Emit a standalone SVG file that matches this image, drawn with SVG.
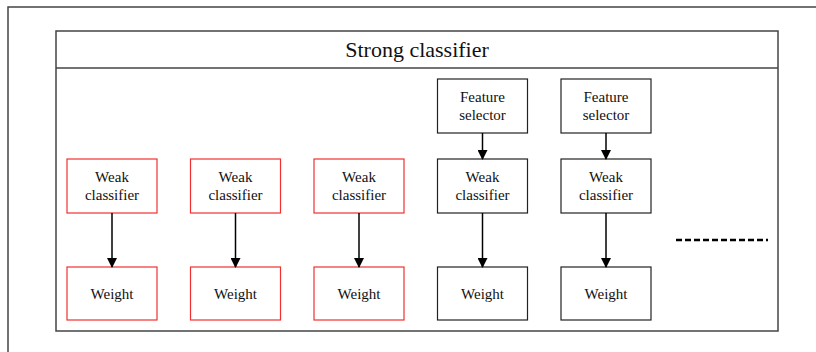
<svg xmlns="http://www.w3.org/2000/svg" width="816" height="352" viewBox="0 0 816 352">
<defs>
<marker id="ah" markerWidth="10" markerHeight="10" refX="9" refY="5" orient="auto" markerUnits="userSpaceOnUse">
<path d="M0,0 L10,5 L0,10 Z" fill="#000"/>
</marker>
<style>
.frame{fill:none;stroke:#444;stroke-width:1.5}
.box{fill:#fff;stroke:#222;stroke-width:1.2}
.red{fill:#fff;stroke:#f03030;stroke-width:1.2}
.t{font-family:"Liberation Serif","Times New Roman",serif;font-size:15px;fill:#111;text-anchor:middle}
.title{font-family:"Liberation Serif","Times New Roman",serif;font-size:22px;fill:#111;text-anchor:middle}
.arr{stroke:#000;stroke-width:1.5;fill:none;marker-end:url(#ah)}
</style>
</defs>
<rect width="816" height="352" fill="#fff"/>
<path d="M8,360 L8,7 L830,7" class="frame"/>
<g id="strong">
<rect x="56" y="31" width="722" height="300" class="frame"/>
<line x1="56" y1="68" x2="778" y2="68" class="frame"/>
<text x="417" y="57" class="title">Strong classifier</text>
</g>
<g id="weak1"><rect x="67" y="159" width="90" height="54" class="red"/><text x="112" y="182" class="t">Weak</text><text x="112" y="200" class="t">classifier</text></g>
<g id="weak2"><rect x="190.5" y="159" width="90" height="54" class="red"/><text x="235.5" y="182" class="t">Weak</text><text x="235.5" y="200" class="t">classifier</text></g>
<g id="weak3"><rect x="314" y="159" width="90" height="54" class="red"/><text x="359" y="182" class="t">Weak</text><text x="359" y="200" class="t">classifier</text></g>
<g id="weak4"><rect x="437.5" y="159" width="90" height="54" class="box"/><text x="482.5" y="182" class="t">Weak</text><text x="482.5" y="200" class="t">classifier</text></g>
<g id="weak5"><rect x="561" y="159" width="90" height="54" class="box"/><text x="606" y="182" class="t">Weak</text><text x="606" y="200" class="t">classifier</text></g>
<g id="weight1"><rect x="67" y="267" width="90" height="53" class="red"/><text x="112" y="299" class="t">Weight</text></g>
<g id="weight2"><rect x="190.5" y="267" width="90" height="53" class="red"/><text x="235.5" y="299" class="t">Weight</text></g>
<g id="weight3"><rect x="314" y="267" width="90" height="53" class="red"/><text x="359" y="299" class="t">Weight</text></g>
<g id="weight4"><rect x="437.5" y="267" width="90" height="53" class="box"/><text x="482.5" y="299" class="t">Weight</text></g>
<g id="weight5"><rect x="561" y="267" width="90" height="53" class="box"/><text x="606" y="299" class="t">Weight</text></g>
<g id="feat4"><rect x="437.5" y="79" width="90" height="54" class="box"/><text x="482.5" y="102" class="t">Feature</text><text x="482.5" y="120" class="t">selector</text></g>
<g id="feat5"><rect x="561" y="79" width="90" height="54" class="box"/><text x="606" y="102" class="t">Feature</text><text x="606" y="120" class="t">selector</text></g>
<g id="connectors">
<line x1="112" y1="213" x2="112" y2="267" class="arr"/>
<line x1="235.5" y1="213" x2="235.5" y2="267" class="arr"/>
<line x1="359" y1="213" x2="359" y2="267" class="arr"/>
<line x1="482.5" y1="213" x2="482.5" y2="267" class="arr"/>
<line x1="606" y1="213" x2="606" y2="267" class="arr"/>
<line x1="482.5" y1="133" x2="482.5" y2="159" class="arr"/>
<line x1="606" y1="133" x2="606" y2="159" class="arr"/>
</g>
<line x1="676" y1="240" x2="768" y2="240" stroke="#000" stroke-width="2.5" stroke-dasharray="6,3"/>
</svg>
